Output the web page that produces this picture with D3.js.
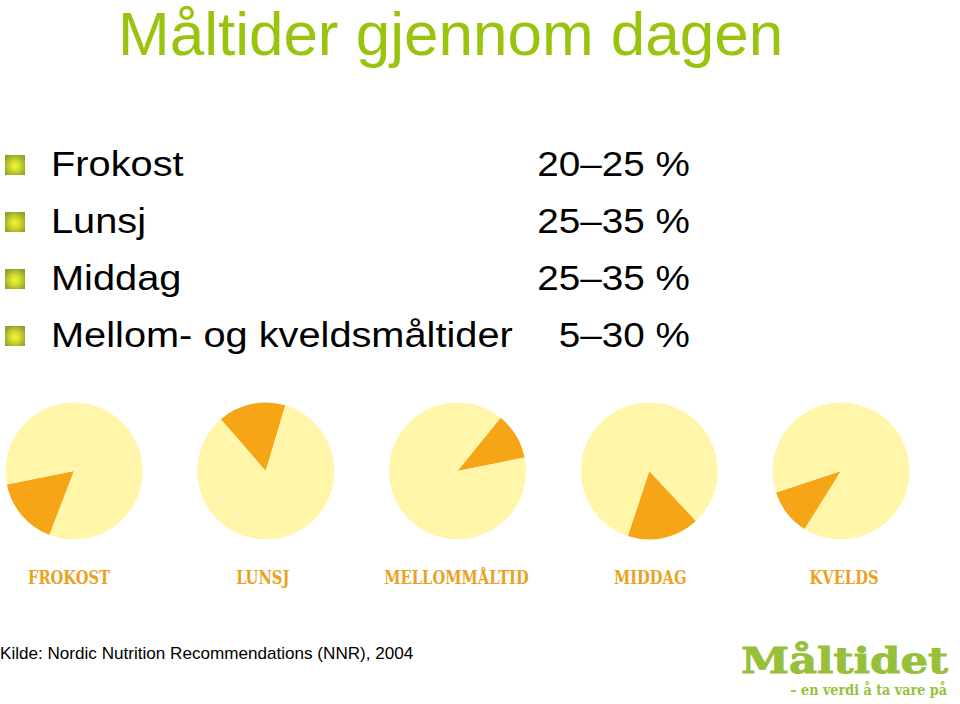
<!DOCTYPE html>
<html>
<head>
<meta charset="utf-8">
<script src="https://cdn.jsdelivr.net/npm/d3@7"></script>
<style>
  html, body { margin: 0; padding: 0; background: #ffffff; }
  svg { display: block; }
</style>
</head>
<body>
<svg id="chart" width="960" height="704"></svg>
<script>
// ---------------- data ----------------
const titleText = "Måltider gjennom dagen";
const guideItems = ["Frokost", "Lunsj", "Middag", "Mellom- og kveldsmåltider"];
const guideRanges = ["20–25 %", "25–35 %", "25–35 %", "5–30 %"];
const meals = ["FROKOST", "LUNSJ", "MELLOMMÅLTID", "MIDDAG", "KVELDS"];
const mealShare = [16, 16, 11, 17, 11];          // % of the day's intake shown as the orange slice
const mealStartDeg = [201, 319, 39, 137, 212];   // clock position where the slice begins
const sourceText = "Kilde: Nordic Nutrition Recommendations (NNR), 2004";
const logoMain = "Måltidet";
const logoSub = "– en verdi å ta vare på";

// ---------------- styles ----------------
const green = "#99c40e";
const orange = "#f5a516";
const paleYellow = "#fff6aa";
const labelOrange = "#e9a21f";
const logoGreen = "#97c03a";
const sans = "'Liberation Sans', Arial, Helvetica, sans-serif";
const stretch = 1.12;   // the slide text is slightly widened

const svg = d3.select("#chart");
svg.append("rect").attr("width", 960).attr("height", 704).attr("fill", "#fff");

const defs = svg.append("defs");
const grad = defs.append("radialGradient").attr("id", "bulletGrad")
  .attr("cx", "50%").attr("cy", "55%").attr("r", "62%");
grad.append("stop").attr("offset", "0%").attr("stop-color", "#f6f43c");
grad.append("stop").attr("offset", "40%").attr("stop-color", "#d2da2c");
grad.append("stop").attr("offset", "100%").attr("stop-color", "#89a22c");

// Title
svg.append("text")
  .attr("x", 118).attr("y", 55)
  .attr("font-family", sans).attr("font-size", 62)
  .attr("fill", green)
  .text(titleText);

// Guideline list
const rowY = d3.scalePoint().domain(guideItems).range([176, 347]);
const rows = svg.append("g").selectAll("g").data(guideItems).join("g")
  .attr("transform", d => `translate(0,${rowY(d)})`);
rows.append("rect")
  .attr("x", 5).attr("y", -21).attr("width", 20).attr("height", 20)
  .attr("fill", "url(#bulletGrad)");
rows.append("text")
  .attr("transform", `translate(51,0) scale(${stretch},1)`)
  .attr("font-family", sans).attr("font-size", 35.5)
  .attr("fill", "#000")
  .text(d => d);
rows.append("text")
  .attr("transform", `translate(690,0) scale(1.09,1)`)
  .attr("text-anchor", "end")
  .attr("font-family", sans).attr("font-size", 35.5)
  .attr("fill", "#000")
  .text((d, i) => guideRanges[i]);

// Pies
const x = d3.scalePoint().domain(meals).range([74, 841]);
const radius = 68.5;
const cy = 471;
const arc = d3.arc().innerRadius(0).outerRadius(radius);

meals.forEach((m, i) => {
  const start = mealStartDeg[i] * Math.PI / 180;
  const pie = d3.pie().sort(null).value(d => d)
    .startAngle(start).endAngle(start + 2 * Math.PI);
  const slices = pie([mealShare[i], 100 - mealShare[i]]);
  const g = svg.append("g").attr("transform", `translate(${x(m)},${cy})`);
  g.selectAll("path").data(slices).join("path")
    .attr("d", arc)
    .attr("fill", (d, j) => j === 0 ? orange : paleYellow);
});

// Meal labels
const labelX = d3.scalePoint().domain(meals).range([69, 844]);
svg.append("g").selectAll("text").data(meals).join("text")
  .attr("transform", d => `translate(${labelX(d)},584) scale(0.86,1)`)
  .attr("text-anchor", "middle")
  .attr("font-family", "'DejaVu Serif Condensed', 'DejaVu Serif', serif")
  .attr("font-weight", "bold")
  .attr("font-size", 19)
  .attr("fill", labelOrange)
  .text(d => d);

// Source
svg.append("text")
  .attr("transform", "translate(0,659) scale(1.07,1)")
  .attr("font-family", sans).attr("font-size", 16)
  .attr("fill", "#000")
  .text(sourceText);

// Logo
svg.append("text")
  .attr("x", 741).attr("y", 673)
  .attr("font-family", "'DejaVu Serif', serif").attr("font-weight", "bold")
  .attr("font-size", 35)
  .attr("textLength", 207).attr("lengthAdjust", "spacingAndGlyphs")
  .attr("fill", logoGreen)
  .attr("stroke", logoGreen).attr("stroke-width", 0.9)
  .text(logoMain);
svg.append("text")
  .attr("transform", "translate(947,695) scale(0.98,1)")
  .attr("text-anchor", "end")
  .attr("font-family", "'DejaVu Serif Condensed', 'DejaVu Serif', serif").attr("font-weight", "bold")
  .attr("font-size", 14.5)
  .attr("fill", logoGreen)
  .text(logoSub);
</script>
</body>
</html>
